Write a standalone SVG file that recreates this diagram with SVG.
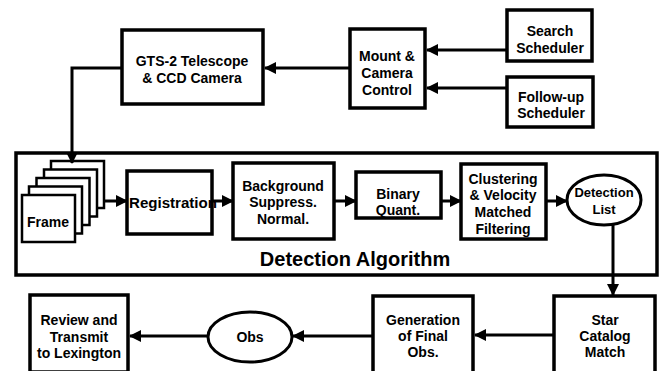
<svg xmlns="http://www.w3.org/2000/svg" width="666" height="371" viewBox="0 0 666 371">
  <defs>
    <marker id="arrow" markerUnits="userSpaceOnUse" markerWidth="12" markerHeight="12" viewBox="0 0 12 12" refX="11" refY="6" orient="auto">
      <path d="M0,0 L12,6 L0,12 Z" fill="#000"/>
    </marker>
    <style>
      .box { fill: #fff; stroke: #000; stroke-width: 3.5; }
      .frame { fill: #fff; stroke: #000; stroke-width: 2.5; }
      .group { fill: none; stroke: #000; stroke-width: 3.5; }
      .oval { fill: #fff; stroke: #000; stroke-width: 3; }
      .link { fill: none; stroke: #000; stroke-width: 3; marker-end: url(#arrow); }
      text { font-family: "Liberation Sans", Arial, sans-serif; font-weight: bold; font-size: 14px; fill: #000; text-anchor: middle; }
      .title { font-size: 20px; }
      .small { font-size: 13px; }
    </style>
  </defs>

  <rect width="666" height="371" fill="#fff"/>

  <!-- Detection Algorithm enclosure -->
  <g id="detection-algorithm">
    <rect class="group" x="16" y="153" width="641" height="122"/>
    <text class="title" x="355" y="266">Detection Algorithm</text>
  </g>

  <g id="gts-telescope">
    <rect class="box" x="122" y="30" width="141" height="74"/>
    <text x="192" y="66">GTS-2 Telescope</text>
    <text x="192" y="83">&amp; CCD Camera</text>
  </g>

  <g id="mount-control">
    <rect class="box" x="350" y="29" width="75" height="79"/>
    <text x="387" y="61">Mount &amp;</text>
    <text x="387" y="78">Camera</text>
    <text x="387" y="95">Control</text>
  </g>

  <g id="search-scheduler">
    <rect class="box" x="507" y="10" width="85" height="51"/>
    <text x="550" y="36">Search</text>
    <text x="550" y="53">Scheduler</text>
  </g>

  <g id="followup-scheduler">
    <rect class="box" x="507" y="77" width="86" height="50"/>
    <text x="551" y="102">Follow-up</text>
    <text x="551" y="118">Scheduler</text>
  </g>

  <!-- stack of image frames -->
  <g id="frames">
    <rect class="frame" x="51" y="161" width="53" height="47"/>
    <rect class="frame" x="44" y="169.5" width="53" height="47"/>
    <rect class="frame" x="36.5" y="178" width="53" height="47"/>
    <rect class="frame" x="29" y="186.5" width="53" height="47"/>
    <rect class="frame" x="22" y="195" width="53" height="47"/>
    <text x="48" y="227">Frame</text>
  </g>

  <!-- label runs under the right border -->
  <g id="registration">
    <text x="173" y="208" textLength="88" lengthAdjust="spacingAndGlyphs">Registration</text>
    <rect x="127" y="171" width="85" height="63" fill="none" stroke="#000" stroke-width="3.5"/>
  </g>

  <g id="background-suppress">
    <rect class="box" x="233" y="163" width="101" height="76"/>
    <text x="283" y="191">Background</text>
    <text x="283" y="207">Suppress.</text>
    <text x="283" y="224">Normal.</text>
  </g>

  <g id="binary-quant">
    <rect class="box" x="356" y="172" width="85" height="46"/>
    <text x="398" y="199">Binary</text>
    <text x="398" y="215">Quant.</text>
  </g>

  <g id="clustering">
    <rect class="box" x="461" y="164" width="85" height="75"/>
    <text x="503" y="184">Clustering</text>
    <text x="503" y="200">&amp; Velocity</text>
    <text x="503" y="217">Matched</text>
    <text x="503" y="234">Filtering</text>
  </g>

  <g id="detection-list">
    <ellipse class="oval" cx="604" cy="200" rx="37" ry="25"/>
    <text class="small" x="604" y="197">Detection</text>
    <text class="small" x="604" y="214">List</text>
  </g>

  <g id="star-catalog">
    <rect class="box" x="554" y="296" width="101" height="78"/>
    <text x="605" y="325">Star</text>
    <text x="605" y="341">Catalog</text>
    <text x="605" y="357">Match</text>
  </g>

  <g id="final-obs">
    <rect class="box" x="373" y="296" width="100" height="78"/>
    <text x="423" y="325">Generation</text>
    <text x="423" y="341">of Final</text>
    <text x="423" y="357">Obs.</text>
  </g>

  <g id="obs">
    <ellipse class="oval" cx="250" cy="337" rx="42" ry="25"/>
    <text x="250" y="342">Obs</text>
  </g>

  <g id="review-transmit">
    <rect class="box" x="30" y="295" width="98" height="77"/>
    <text x="79" y="325">Review and</text>
    <text x="79" y="342">Transmit</text>
    <text x="79" y="358">to Lexington</text>
  </g>

  <!-- connectors -->
  <g id="connectors">
    <line class="link" x1="507" y1="50" x2="427" y2="50"/>
    <line class="link" x1="507" y1="88" x2="427" y2="88"/>
    <line class="link" x1="350" y1="68" x2="265" y2="68"/>
    <polyline class="link" points="122,68 72,68 72,163"/>
    <line class="link" x1="104" y1="201" x2="127" y2="201"/>
    <line class="link" x1="212" y1="201" x2="233" y2="201"/>
    <line class="link" x1="334" y1="201" x2="356" y2="201"/>
    <line class="link" x1="441" y1="201" x2="461" y2="201"/>
    <line class="link" x1="546" y1="201" x2="567" y2="201"/>
    <line class="link" x1="613" y1="225" x2="613" y2="295"/>
    <line class="link" x1="554" y1="335" x2="475" y2="335"/>
    <line class="link" x1="373" y1="336" x2="293" y2="336"/>
    <line class="link" x1="208" y1="336" x2="130" y2="336"/>
  </g>
</svg>
